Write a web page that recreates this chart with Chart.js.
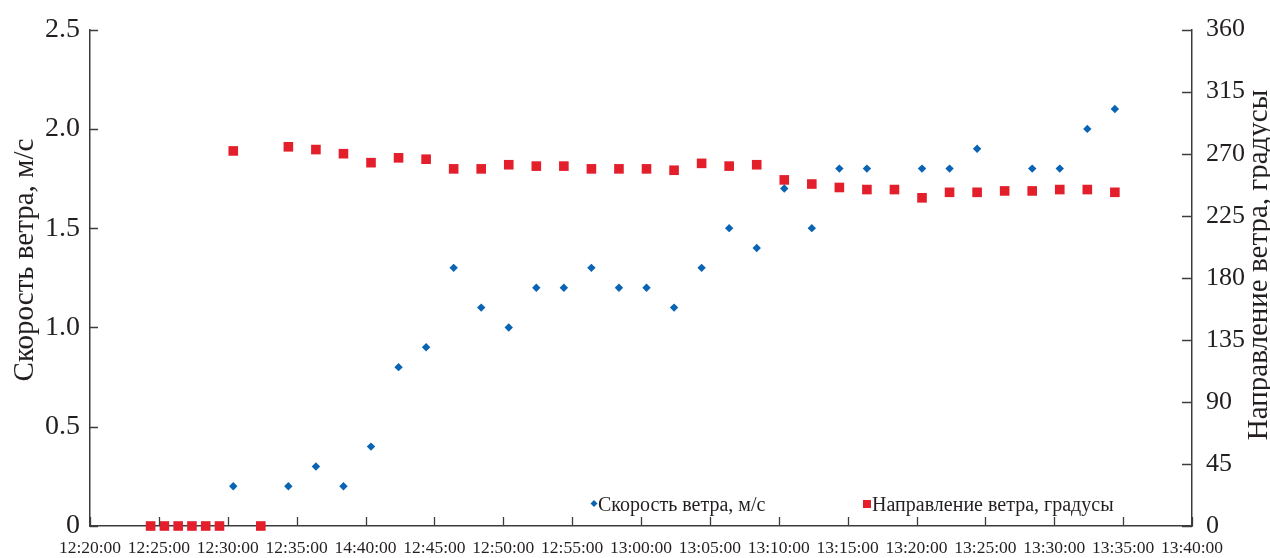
<!DOCTYPE html>
<html>
<head>
<meta charset="utf-8">
<script src="https://cdn.jsdelivr.net/npm/chart.js@4.4.1/dist/chart.umd.min.js"></script>
<style>
  html, body { margin: 0; padding: 0; background: #fff; }
  #wrap { width: 1270px; height: 558px; }
</style>
</head>
<body>
<div id="wrap"><canvas id="chart" width="1270" height="558"></canvas></div>
<script>
// x axis tick labels, one per 5 minutes from 12:20 (the "14:40:00" is as printed)
const timeLabels = ['12:20:00', '12:25:00', '12:30:00', '12:35:00', '14:40:00', '12:45:00',
  '12:50:00', '12:55:00', '13:00:00', '13:05:00', '13:10:00', '13:15:00', '13:20:00',
  '13:25:00', '13:30:00', '13:35:00', '13:40:00'];

// sample times, minutes after 12:20
const sampleMinutes = [4.4, 5.4, 6.4, 7.4, 8.4, 9.4, 10.4, 12.4, 14.4, 16.4, 18.4, 20.4,
  22.4, 24.4, 26.4, 28.4, 30.4, 32.4, 34.4, 36.4, 38.4, 40.4, 42.4, 44.4, 46.4, 48.4,
  50.4, 52.4, 54.4, 56.4, 58.4, 60.4, 62.4, 64.4, 66.4, 68.4, 70.4, 72.4, 74.4];

// wind speed, m/s (null where no diamond is visible)
const windSpeed = [null, null, null, null, null, null, 0.2, null, 0.2, 0.3, 0.2, 0.4,
  0.8, 0.9, 1.3, 1.1, 1.0, 1.2, 1.2, 1.3, 1.2, 1.2, 1.1, 1.3, 1.5, 1.4,
  1.7, 1.5, 1.8, 1.8, null, 1.8, 1.8, 1.9, null, 1.8, 1.8, 2.0, 2.1];

// wind direction, degrees
const windDirection = [0, 0, 0, 0, 0, 0, 272, 0, 275, 273, 270, 263.5,
  267, 266, 259, 259, 262, 261, 261, 259, 259, 259, 258, 263, 261, 262,
  251, 248, 245.5, 244, 244, 238, 242, 242, 243, 243, 244, 244, 242];

const speedTitle = 'Скорость ветра, м/с';
const directionTitle = 'Направление ветра, градусы';

const SERIF = "'Liberation Serif', 'Times New Roman', serif";
const INK = '#231f20';
const AXIS = '#3c3c3c';
const BLUE = '#0a64b4';
const RED = '#e31f2b';

function toPoints(values) {
  return sampleMinutes.map(function(m, i) { return { x: m, y: values[i] }; });
}

// inward tick marks, rotated axis titles and the in-plot legend
const decorations = {
  id: 'decorations',
  afterDraw: function(chart) {
    const ctx = chart.ctx;
    const area = chart.chartArea;
    const sx = chart.scales.x, sy = chart.scales.y, sy1 = chart.scales.y1;

    ctx.save();
    ctx.strokeStyle = AXIS;
    ctx.lineWidth = 1.3;
    ctx.beginPath();
    sx.ticks.forEach(function(t) {
      const px = Math.round(sx.getPixelForValue(t.value)) + 0.5;
      ctx.moveTo(px, area.bottom);
      ctx.lineTo(px, area.bottom - 9);
    });
    sy.ticks.forEach(function(t) {
      const py = Math.round(sy.getPixelForValue(t.value)) + 0.5;
      ctx.moveTo(area.left, py);
      ctx.lineTo(area.left + 8, py);
    });
    sy1.ticks.forEach(function(t) {
      const py = Math.round(sy1.getPixelForValue(t.value)) + 0.5;
      ctx.moveTo(area.right, py);
      ctx.lineTo(area.right - 10, py);
    });
    ctx.stroke();

    // axis titles, both read bottom to top
    ctx.fillStyle = INK;
    ctx.font = '29px ' + SERIF;
    ctx.textAlign = 'center';
    ctx.textBaseline = 'middle';
    ctx.save();
    ctx.translate(25, 260);
    ctx.rotate(-Math.PI / 2);
    ctx.fillText(speedTitle, 0, 0);
    ctx.restore();
    ctx.save();
    ctx.translate(1259, 265);
    ctx.rotate(-Math.PI / 2);
    ctx.fillText(directionTitle, 0, 0);
    ctx.restore();

    // legend
    ctx.font = '20px ' + SERIF;
    ctx.textAlign = 'left';
    ctx.textBaseline = 'alphabetic';
    ctx.fillStyle = BLUE;
    ctx.beginPath();
    ctx.moveTo(594, 500); ctx.lineTo(597.5, 503.5); ctx.lineTo(594, 507); ctx.lineTo(590.5, 503.5);
    ctx.closePath();
    ctx.fill();
    ctx.fillStyle = RED;
    ctx.fillRect(863, 500, 8, 8);
    ctx.fillStyle = INK;
    ctx.fillText(speedTitle, 598, 511);
    ctx.fillText(directionTitle, 872, 511);
    ctx.restore();
  }
};

new Chart(document.getElementById('chart'), {
  type: 'scatter',
  data: {
    datasets: [
      {
        label: speedTitle,
        data: toPoints(windSpeed),
        yAxisID: 'y',
        pointStyle: 'rectRot',
        pointRadius: 4.2,
        pointBackgroundColor: BLUE,
        pointBorderWidth: 0,
        clip: false
      },
      {
        label: directionTitle,
        data: toPoints(windDirection),
        yAxisID: 'y1',
        pointStyle: 'rect',
        pointRadius: 6.8,
        pointBackgroundColor: RED,
        pointBorderWidth: 0,
        clip: false
      }
    ]
  },
  options: {
    responsive: false,
    animation: false,
    layout: { padding: { top: 27, left: 0, right: 0, bottom: 0 } },
    plugins: {
      legend: { display: false },
      tooltip: { enabled: false }
    },
    scales: {
      x: {
        type: 'linear',
        min: 0,
        max: 80,
        afterFit: function(scale) { scale.height = 32; },
        grid: { display: false, drawTicks: false },
        border: { display: true, color: AXIS, width: 1.5 },
        ticks: {
          stepSize: 5,
          autoSkip: false,
          maxRotation: 0,
          padding: 12,
          color: INK,
          font: { family: SERIF, size: 17.5 },
          callback: function(value) { return timeLabels[Math.round(value / 5)]; }
        }
      },
      y: {
        position: 'left',
        min: 0,
        max: 2.5,
        afterFit: function(scale) { scale.width = 90; },
        grid: { display: false, drawTicks: false },
        border: { display: true, color: AXIS, width: 1.5 },
        ticks: {
          stepSize: 0.5,
          padding: 10,
          color: INK,
          font: { family: SERIF, size: 28 },
          callback: function(value) { return value === 0 ? '0' : value.toFixed(1); }
        }
      },
      y1: {
        position: 'right',
        min: 0,
        max: 360,
        afterFit: function(scale) { scale.width = 78; },
        grid: { display: false, drawTicks: false },
        border: { display: true, color: AXIS, width: 1.5 },
        ticks: {
          stepSize: 45,
          padding: 14,
          color: INK,
          font: { family: SERIF, size: 26 }
        }
      }
    }
  },
  plugins: [decorations]
});
</script>
</body>
</html>
